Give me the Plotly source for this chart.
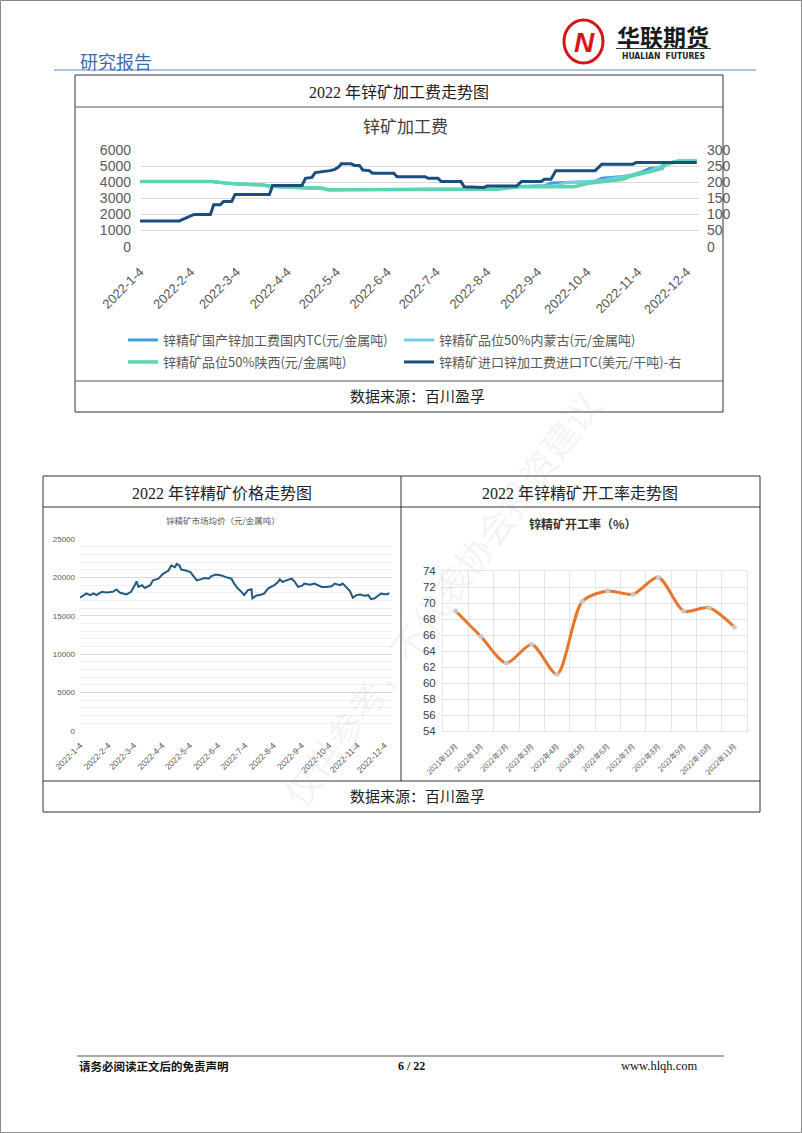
import plotly.graph_objects as go

W, H = 802, 1133


def fx(x):
    return x / W


def fy(y):
    return 1 - y / H


CJK = "Noto Sans CJK SC"
SERIF = "Liberation Serif, Noto Sans CJK SC"

# ---------------- data: 锌矿加工费 ----------------
month_ticks = ["2022-01-04", "2022-02-04", "2022-03-04", "2022-04-04", "2022-05-04", "2022-06-04",
               "2022-07-04", "2022-08-04", "2022-09-04", "2022-10-04", "2022-11-04", "2022-12-04"]
month_labels = ["2022-1-4", "2022-2-4", "2022-3-4", "2022-4-4", "2022-5-4", "2022-6-4",
                "2022-7-4", "2022-8-4", "2022-9-4", "2022-10-4", "2022-11-4", "2022-12-4"]

dom_tc_name = "锌精矿国产锌加工费国内TC(元/金属吨)"
dom_tc_dates = ["2022-01-04", "2022-02-17", "2022-02-24", "2022-03-03", "2022-03-20", "2022-03-24",
                "2022-04-03", "2022-04-25", "2022-04-29", "2022-07-21", "2022-08-10", "2022-08-24",
                "2022-09-08", "2022-09-12", "2022-10-09", "2022-10-13", "2022-10-26", "2022-11-01",
                "2022-11-07", "2022-11-11", "2022-11-17", "2022-11-21", "2022-11-28", "2022-12-10"]
dom_tc_vals = [4050, 4050, 3960, 3900, 3830, 3760,
               3690, 3620, 3540, 3540, 3580, 3740,
               3780, 3950, 4050, 4250, 4350, 4450,
               4650, 4850, 4900, 5150, 5300, 5340]

imn_name = "锌精矿品位50%内蒙古(元/金属吨)"
imn_dates = ["2022-01-04", "2022-02-17", "2022-02-24", "2022-03-03", "2022-03-20", "2022-03-24",
             "2022-04-03", "2022-04-25", "2022-04-29", "2022-07-21", "2022-08-10", "2022-08-24",
             "2022-09-15", "2022-09-20", "2022-10-13", "2022-10-20", "2022-10-28", "2022-11-03",
             "2022-11-10", "2022-11-14", "2022-11-22", "2022-11-29", "2022-12-10"]
imn_vals = [4050, 4050, 3960, 3900, 3830, 3760,
            3690, 3620, 3540, 3540, 3580, 3730,
            3760, 3950, 4100, 4250, 4350, 4560,
            4600, 4850, 5080, 5350, 5370]

sx_name = "锌精矿品位50%陕西(元/金属吨)"
sx_dates = ["2022-01-04", "2022-02-17", "2022-02-24", "2022-03-03", "2022-03-20", "2022-03-24",
            "2022-04-03", "2022-04-20", "2022-04-25", "2022-04-29", "2022-07-21", "2022-08-10",
            "2022-08-24", "2022-09-26", "2022-10-05", "2022-10-13", "2022-10-26", "2022-10-30",
            "2022-11-07", "2022-11-11", "2022-11-15", "2022-11-19", "2022-11-21", "2022-12-02",
            "2022-12-10"]
sx_vals = [4040, 4040, 3960, 3900, 3830, 3760,
           3690, 3650, 3620, 3530, 3530, 3570,
           3720, 3720, 3930, 4040, 4180, 4350,
           4550, 4660, 4800, 4860, 5180, 5280,
           5280]

imp_name = "锌精矿进口锌加工费进口TC(美元/干吨)-右"
imp_dates = ["2022-01-04", "2022-01-28", "2022-02-06", "2022-02-16", "2022-02-18", "2022-02-22",
             "2022-02-24", "2022-03-01", "2022-03-03", "2022-03-24", "2022-03-26", "2022-04-13",
             "2022-04-15", "2022-04-19", "2022-04-21", "2022-04-27", "2022-04-30", "2022-05-03",
             "2022-05-05", "2022-05-07", "2022-05-13", "2022-05-15", "2022-05-18", "2022-05-20",
             "2022-05-24", "2022-05-26", "2022-06-08", "2022-06-10", "2022-06-27", "2022-06-29",
             "2022-07-05", "2022-07-07", "2022-07-19", "2022-07-21", "2022-08-02", "2022-08-04",
             "2022-08-22", "2022-08-25", "2022-09-06", "2022-09-08", "2022-09-12", "2022-09-15",
             "2022-10-09", "2022-10-13", "2022-11-01", "2022-11-03", "2022-12-10"]
imp_vals = [80, 80, 100, 100, 130, 130,
            140, 140, 162, 162, 190, 190,
            212, 215, 230, 233, 236, 240,
            246, 257, 257, 252, 252, 238,
            236, 228, 228, 217, 217, 212,
            212, 202, 202, 186, 184, 188,
            188, 202, 202, 209, 209, 236,
            236, 256, 256, 261, 261]

# ---------------- data: 锌精矿市场均价 ----------------
price_dates = ["2022-01-04", "2022-01-08", "2022-01-11", "2022-01-15", "2022-01-19", "2022-01-22",
               "2022-01-28", "2022-02-02", "2022-02-09", "2022-02-13", "2022-02-17", "2022-02-24",
               "2022-03-01", "2022-03-05", "2022-03-07", "2022-03-09", "2022-03-13", "2022-03-16",
               "2022-03-22", "2022-03-25", "2022-03-31", "2022-04-05", "2022-04-11", "2022-04-14",
               "2022-04-18", "2022-04-20", "2022-04-23", "2022-04-25", "2022-04-30", "2022-05-05",
               "2022-05-08", "2022-05-12", "2022-05-16", "2022-05-21", "2022-05-25", "2022-05-28",
               "2022-06-02", "2022-06-08", "2022-06-13", "2022-06-19", "2022-06-22", "2022-06-26",
               "2022-06-30", "2022-07-03", "2022-07-07", "2022-07-11", "2022-07-12", "2022-07-16",
               "2022-07-22", "2022-07-25", "2022-07-29", "2022-08-02", "2022-08-05", "2022-08-09",
               "2022-08-11", "2022-08-14", "2022-08-18", "2022-08-24", "2022-08-27", "2022-08-31",
               "2022-09-04", "2022-09-07", "2022-09-13", "2022-09-18", "2022-09-22", "2022-09-26",
               "2022-10-01", "2022-10-07", "2022-10-10", "2022-10-16", "2022-10-19", "2022-10-23",
               "2022-10-27", "2022-10-30", "2022-11-03", "2022-11-07", "2022-11-12", "2022-11-16",
               "2022-11-19", "2022-11-23", "2022-11-27", "2022-11-30", "2022-12-04", "2022-12-07",
               "2022-12-09"]
price_vals = [17350, 17610, 17910, 17690, 17910, 17690,
              18120, 18040, 18120, 18420, 17990, 17780,
              18120, 18980, 19490, 18760, 18980, 18630,
              18980, 19620, 19830, 20470, 20900, 21540,
              21320, 21750, 21540, 21020, 20900, 20680,
              20260, 19620, 19740, 19910, 19830, 20170,
              20380, 20260, 20040, 19830, 19190, 18550,
              18120, 17690, 18330, 18460, 17270, 17610,
              17780, 17910, 18550, 18760, 18980, 19400,
              19740, 19400, 19620, 19830, 19490, 18760,
              18890, 19190, 19060, 19190, 18980, 18760,
              18760, 18850, 19190, 18980, 19190, 18760,
              18210, 17350, 17690, 17780, 17610, 17690,
              17180, 17270, 17610, 17910, 17820, 17820,
              17950]

# ---------------- data: 锌精矿开工率 ----------------
rate_months = ["2021年12月", "2022年1月", "2022年2月", "2022年3月", "2022年4月", "2022年5月",
               "2022年6月", "2022年7月", "2022年8月", "2022年9月", "2022年10月", "2022年11月"]
rate_vals = [69.0, 65.8, 62.5, 64.8, 61.1, 70.2, 71.5, 71.1, 73.2, 69.0, 69.4, 67.0]

# ---------------- figure ----------------
fig = go.Figure()

fig.add_trace(go.Scatter(x=dom_tc_dates, y=dom_tc_vals, name=dom_tc_name, mode="lines",
                         line=dict(color="#3F9FDA", width=3), xaxis="x", yaxis="y", legend="legend"))
fig.add_trace(go.Scatter(x=imn_dates, y=imn_vals, name=imn_name, mode="lines",
                         line=dict(color="#72CFE8", width=3), xaxis="x", yaxis="y", legend="legend2"))
fig.add_trace(go.Scatter(x=sx_dates, y=sx_vals, name=sx_name, mode="lines",
                         line=dict(color="#5CD4B2", width=3.5), xaxis="x", yaxis="y", legend="legend3"))
fig.add_trace(go.Scatter(x=imp_dates, y=imp_vals, name=imp_name, mode="lines",
                         line=dict(color="#1B4D7E", width=3), xaxis="x", yaxis="y2", legend="legend4"))

fig.add_trace(go.Scatter(x=price_dates, y=price_vals, mode="lines", showlegend=False,
                         line=dict(color="#1F5B82", width=2), xaxis="x2", yaxis="y3"))

fig.add_trace(go.Scatter(x=rate_months, y=rate_vals, mode="lines+markers", showlegend=False,
                         line=dict(color="#E8762C", width=3, shape="spline", smoothing=0.8),
                         marker=dict(size=5, color="#C8C8C8"), xaxis="x3", yaxis="y4"))

tick_font_top = dict(size=14, color="#595959", family="Liberation Sans, " + CJK)


def legend_at(x, y):
    return dict(x=fx(x), y=fy(y), xanchor="left", yanchor="middle", orientation="h",
                itemwidth=30, font=dict(size=13, color="#595959", family=CJK),
                bgcolor="rgba(0,0,0,0)")


fig.update_layout(
    width=W, height=H,
    margin=dict(l=0, r=0, t=0, b=0),
    paper_bgcolor="white", plot_bgcolor="white",
    hovermode=False,
    xaxis=dict(domain=[fx(140), fx(700)], anchor="y", type="date",
               range=["2022-01-04", "2022-12-12"], tickvals=month_ticks, ticktext=month_labels,
               tickangle=-45, tickfont=dict(size=13, color="#595959", family="Liberation Sans"),
               showgrid=False, zeroline=False, showline=False, ticks="", automargin=False,
               ticklabelstandoff=14),
    yaxis=dict(domain=[fy(246.7), fy(150)], anchor="x", range=[0, 6000], dtick=1000,
               gridcolor="#D9D9D9", gridwidth=1, zeroline=False, showline=False, ticks="",
               tickfont=tick_font_top, automargin=False, ticklabelstandoff=8),
    yaxis2=dict(overlaying="y", side="right", anchor="x", range=[0, 300], dtick=50,
                showgrid=False, zeroline=False, showline=False, ticks="",
                tickfont=tick_font_top, automargin=False, ticklabelstandoff=6),
    xaxis2=dict(domain=[fx(80), fx(392)], anchor="y3", type="date",
                range=["2022-01-04", "2022-12-12"], tickvals=month_ticks, ticktext=month_labels,
                tickangle=-45, tickfont=dict(size=8.5, color="#595959", family="Liberation Sans"),
                showgrid=False, zeroline=False, showline=False, ticks="", automargin=False,
                ticklabelstandoff=7),
    yaxis3=dict(domain=[fy(731), fy(539)], anchor="x2", range=[0, 25000], dtick=5000,
                tickformat="d",
                gridcolor="#D9D9D9", gridwidth=1, zeroline=False, showline=False, ticks="",
                minor=dict(dtick=1000, showgrid=True, gridcolor="#F0F0F0", gridwidth=1),
                tickfont=dict(size=8, color="#595959", family="Liberation Sans"),
                automargin=False, ticklabelstandoff=4),
    xaxis3=dict(domain=[fx(443), fx(747)], anchor="y4", type="category",
                range=[-0.5, 11.5], tickson="boundaries", tickangle=-45,
                tickfont=dict(size=7.5, color="#595959", family=CJK),
                showgrid=True, gridcolor="#E4E4E4", gridwidth=1, zeroline=False,
                showline=True, mirror=True, linecolor="#E4E4E4", ticks="", automargin=False,
                ticklabelstandoff=7),
    yaxis4=dict(domain=[fy(731), fy(571)], anchor="x3", range=[54, 74], dtick=2,
                gridcolor="#E4E4E4", gridwidth=1, zeroline=False, showline=True, mirror=True,
                linecolor="#E4E4E4", ticks="",
                tickfont=dict(size=11.5, color="#404040", family="Liberation Sans Narrow, Liberation Sans"),
                automargin=False, ticklabelstandoff=4),
    legend=legend_at(123, 340),
    legend2=legend_at(399, 340),
    legend3=legend_at(123, 362),
    legend4=legend_at(399, 362),
)

shapes = []


def hline(x0, x1, y, color="#333333", width=1):
    shapes.append(dict(type="line", xref="paper", yref="paper", x0=fx(x0), x1=fx(x1),
                       y0=fy(y), y1=fy(y), line=dict(color=color, width=width)))


def vline(x, y0, y1, color="#333333", width=1):
    shapes.append(dict(type="line", xref="paper", yref="paper", x0=fx(x), x1=fx(x),
                       y0=fy(y0), y1=fy(y1), line=dict(color=color, width=width)))


def rect(x0, y0, x1, y1, color="#333333", width=1):
    shapes.append(dict(type="rect", xref="paper", yref="paper", x0=fx(x0), x1=fx(x1),
                       y0=fy(y1), y1=fy(y0), line=dict(color=color, width=width)))


# page frame
rect(0.5, 0.5, 801.5, 1132.5, color="#8A8A8A", width=1)
# header
hline(54, 756, 70, color="#5B87C7", width=1)
shapes.append(dict(type="circle", xref="paper", yref="paper", x0=fx(564), x1=fx(603),
                   y0=fy(63), y1=fy(20), line=dict(color="#D7141A", width=3)))
hline(616, 711, 48.5, color="#333333", width=1)
# top box
rect(75, 75, 723, 412, color="#333333")
hline(75, 723, 107, color="#555555")
hline(75, 723, 381, color="#555555")
# bottom box
rect(43, 476, 760, 812, color="#333333")
hline(43, 760, 507, color="#333333")
hline(43, 760, 781, color="#333333")
vline(401, 476, 781, color="#333333")
# footer
hline(77, 724, 1056, color="#555555", width=1)

fig.update_layout(shapes=shapes)

annots = []


def text(x, y, s, size, color="#222222", family=CJK, xanchor="center", angle=0):
    annots.append(dict(x=fx(x), y=fy(y), xref="paper", yref="paper", text=s, showarrow=False,
                       xanchor=xanchor, yanchor="middle", textangle=angle,
                       font=dict(size=size, color=color, family=family)))


# watermark
text(440, 598, "仅供参考，不代表协会投资建议", 36, color="rgba(160,160,160,0.12)", angle=-53.5)

# header
text(78, 61, "研究报告", 18, color="#3F6BA8", xanchor="left")
text(584, 42, "<b><i>N</i></b>", 28, color="#D7141A", family="Liberation Sans")
text(663, 36, "<b>华联期货</b>", 23, color="#1A1A1A")
text(663, 56, "<b>HUALIAN  FUTURES</b>", 8.5, color="#222222", family="DejaVu Sans Condensed, Liberation Sans")

# top box
text(399, 92, "2022 年锌矿加工费走势图", 16, family=SERIF)
text(405, 125, "锌矿加工费", 17, color="#404040")
text(417, 397, "数据来源：百川盈孚", 15, family=SERIF)

# bottom box
text(222, 493, "2022 年锌精矿价格走势图", 16, family=SERIF)
text(580, 493, "2022 年锌精矿开工率走势图", 16, family=SERIF)
text(223, 520, "锌精矿市场均价（元/金属吨）", 8.5, color="#595959")
text(583, 523, "<b>锌精矿开工率（%）</b>", 12, color="#333333")
text(417, 797, "数据来源：百川盈孚", 15, family=SERIF)

# footer
text(77, 1066, "<b>请务必阅读正文后的免责声明</b>", 11.5, color="#111111", xanchor="left")
text(411, 1066, "<b>6 / 22</b>", 12, color="#111111", family="Liberation Serif")
text(659, 1066, "www.hlqh.com", 12.5, color="#111111", family="Liberation Serif")

fig.update_layout(annotations=annots)

fig.write_html("out.html")
